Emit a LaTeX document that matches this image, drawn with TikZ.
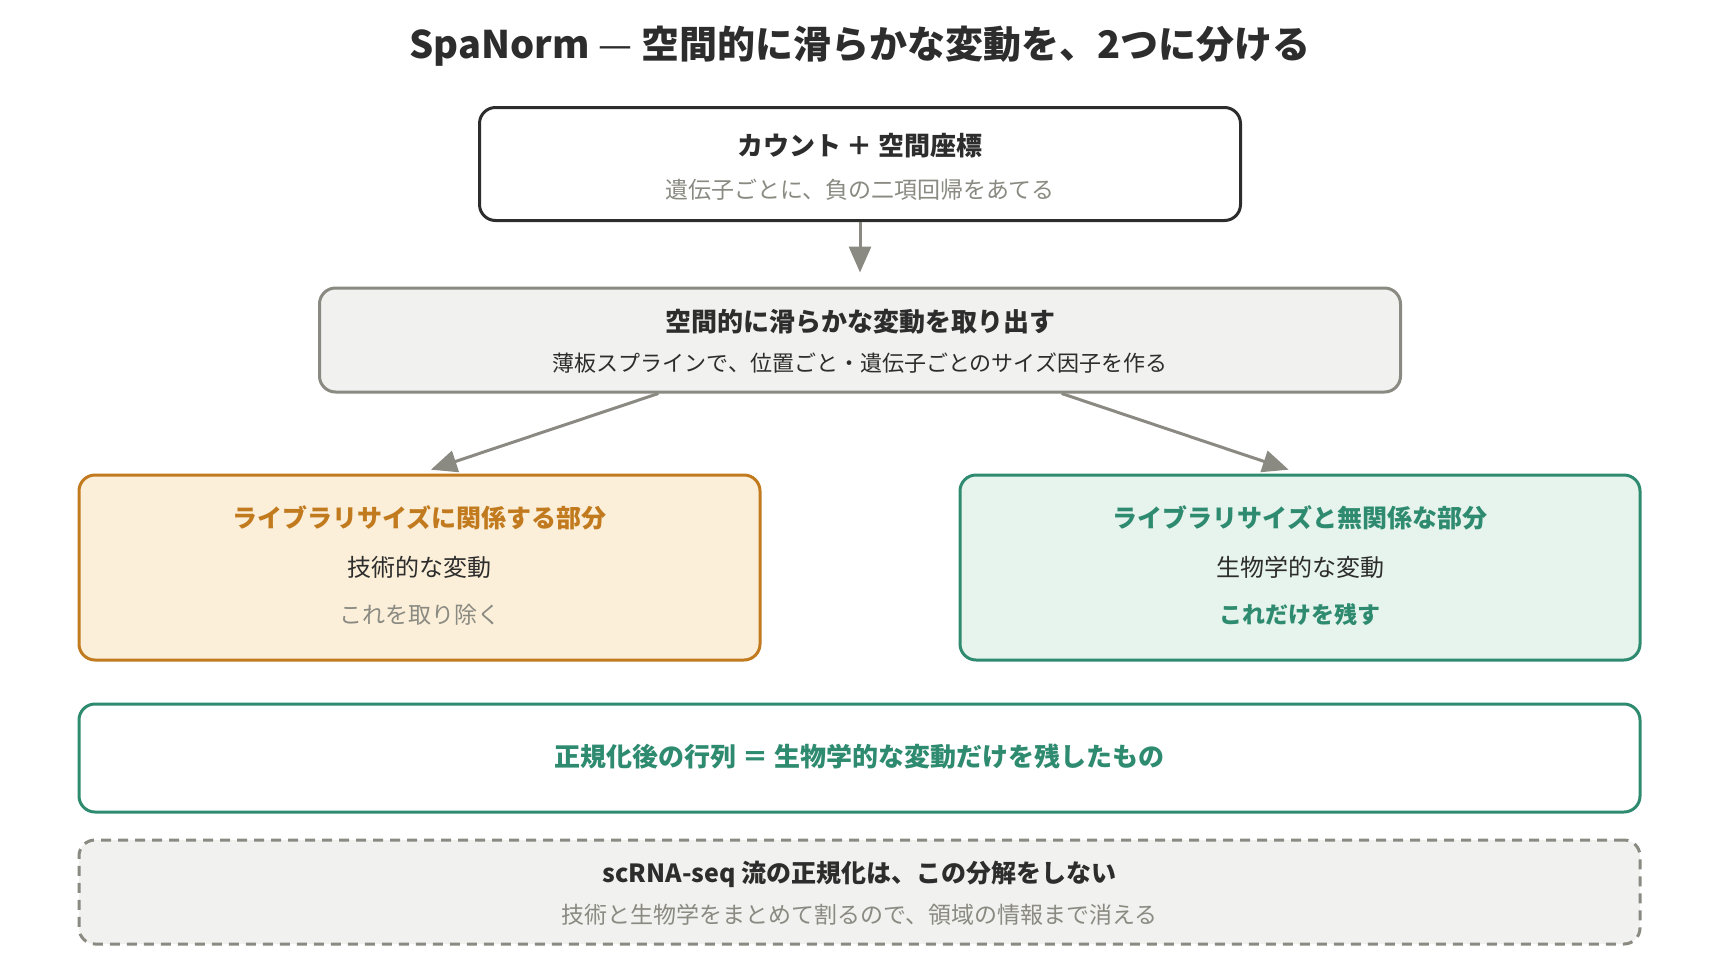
\documentclass[tikz,border=0pt]{standalone}
\usepackage{fontspec}
\setmainfont{Noto Sans CJK JP}
\usetikzlibrary{arrows.meta,positioning,calc}
\definecolor{ink}{HTML}{2D2D2D}
\definecolor{mute}{HTML}{8A8A82}
\definecolor{paper}{HTML}{F1F1EF}
\definecolor{amber}{HTML}{C27A1E}
\definecolor{amberbg}{HTML}{FBEFD9}
\definecolor{sage}{HTML}{2E8B6F}
\definecolor{sagebg}{HTML}{E7F3ED}
\tikzset{
    box/.style={draw=ink, fill=white, line width=3pt, rounded corners=16pt, inner sep=0pt},
    boxS/.style={box, draw=mute, fill=paper},
    boxT/.style={box, draw=amber, fill=amberbg},
    boxB/.style={box, draw=sage, fill=sagebg},
    boxR/.style={box, draw=sage, fill=white},
    boxN/.style={box, draw=mute, fill=paper, dash pattern=on 10pt off 7pt},
    flow/.style={draw=mute, line width=3pt, -{Triangle[length=26pt,width=22pt]}},
    head/.style={font=\fontsize{38pt}{42pt}\selectfont\bfseries, text=ink},
    ttl/.style={font=\fontsize{26pt}{30pt}\selectfont\bfseries, text=ink},
    sub/.style={font=\fontsize{23pt}{27pt}\selectfont, text=mute},
    txt/.style={font=\fontsize{24pt}{28pt}\selectfont, text=ink},
}
\begin{document}
\begin{tikzpicture}[x=1pt, y=-1pt]
    \useasboundingbox (0,0) rectangle (1720,972);

    % Title
    \node[head] (title) at (860,46) {SpaNorm {\mdseries —} 空間的に滑らかな変動を、2つに分ける};

    % Input
    \node[box, minimum width=761pt, minimum height=113pt] (count) at (860,164) {};
    \node[ttl] (countT) at (860,146) {カウント ＋ 空間座標};
    \node[sub] (countS) at (860,190) {遺伝子ごとに、負の二項回帰をあてる};

    % Spline step
    \node[boxS, minimum width=1081pt, minimum height=104pt] (spline) at (860,340) {};
    \node[ttl] (splineT) at (860,322) {空間的に滑らかな変動を取り出す};
    \node[txt, font=\fontsize{22pt}{26pt}\selectfont] (splineS) at (860,363) {薄板スプラインで、位置ごと・遺伝子ごとのサイズ因子を作る};

    % Two parts
    \node[boxT, minimum width=681pt, minimum height=185pt] (tech) at (419.5,567.5) {};
    \node[ttl, text=amber, font=\fontsize{25pt}{30pt}\selectfont\bfseries] (techT) at (419.5,518) {ライブラリサイズに関係する部分};
    \node[txt] (techM) at (419.5,567) {技術的な変動};
    \node[sub] (techS) at (419.5,615) {これを取り除く};

    \node[boxB, minimum width=680pt, minimum height=185pt] (bio) at (1300,567.5) {};
    \node[ttl, text=sage, font=\fontsize{25pt}{30pt}\selectfont\bfseries] (bioT) at (1300,518) {ライブラリサイズと無関係な部分};
    \node[txt] (bioM) at (1300,567) {生物学的な変動};
    \node[ttl, text=sage, font=\fontsize{23pt}{27pt}\selectfont\bfseries] (bioS) at (1300,615) {これだけを残す};

    % Result
    \node[boxR, minimum width=1561pt, minimum height=108pt] (result) at (859.5,758) {};
    \node[ttl, text=sage] (resultT) at (859.5,757) {正規化後の行列 ＝ 生物学的な変動だけを残したもの};

    % Note
    \node[boxN, minimum width=1561pt, minimum height=104pt] (note) at (859.5,892) {};
    \node[ttl, font=\fontsize{25pt}{29pt}\selectfont\bfseries] (noteT) at (859.5,874) {scRNA-seq 流の正規化は、この分解をしない};
    \node[sub] (noteS) at (859.5,915) {技術と生物学をまとめて割るので、領域の情報まで消える};

    % Arrows
    \draw[flow, shorten >=14pt] (count.south) -- (spline.north);
    \draw[flow, shorten >=12pt] ($(spline.south west)!0.314!(spline.south east)$) -- (tech.north);
    \draw[flow, shorten >=12pt] ($(spline.south west)!0.686!(spline.south east)$) -- (bio.north);
\end{tikzpicture}
\end{document}
